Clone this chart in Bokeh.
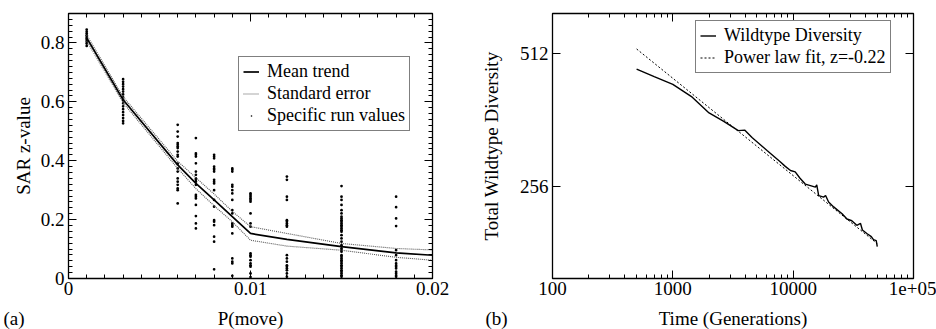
from bokeh.plotting import figure
from bokeh.layouts import row, column
from bokeh.models import (FixedTicker, LinearAxis, LogAxis, Legend, LegendItem,
                          CustomJSTickFormatter, Range1d)
from bokeh.core.properties import value
from bokeh.embed import file_html
from bokeh.resources import INLINE

FONT = "Liberation Serif"

# ---------------- panel (a) data ----------------
p_move = [0.001, 0.003, 0.006, 0.007, 0.008, 0.009, 0.01, 0.012, 0.015, 0.018, 0.02]
mean_z = [0.817, 0.607, 0.386, 0.323, 0.267, 0.21, 0.153, 0.133, 0.108, 0.087, 0.079]
upper_z = [0.827, 0.617, 0.398, 0.342, 0.287, 0.228, 0.176, 0.153, 0.119, 0.102, 0.097]
lower_z = [0.807, 0.597, 0.374, 0.305, 0.247, 0.193, 0.13, 0.11, 0.096, 0.072, 0.062]

runs_0001 = [0.845, 0.838, 0.832, 0.826, 0.82, 0.815, 0.81, 0.804, 0.798, 0.79]
runs_0003 = [0.677, 0.668, 0.66, 0.652, 0.643, 0.635, 0.625, 0.615, 0.605, 0.595,
             0.585, 0.575, 0.565, 0.555, 0.545, 0.535, 0.527]
runs_0006 = [0.522, 0.499, 0.482, 0.46, 0.454, 0.448, 0.443, 0.431, 0.42, 0.414,
             0.39, 0.374, 0.363, 0.34, 0.329, 0.318, 0.306, 0.3, 0.255]
runs_0007 = [0.477, 0.425, 0.42, 0.414, 0.391, 0.363, 0.352, 0.34, 0.335, 0.329,
             0.318, 0.284, 0.278, 0.272, 0.25, 0.212, 0.187, 0.17]
runs_0008 = [0.42, 0.414, 0.408, 0.38, 0.374, 0.369, 0.363, 0.335, 0.329, 0.323,
             0.3, 0.267, 0.244, 0.198, 0.193, 0.181, 0.142, 0.125, 0.031]
runs_0009 = [0.374, 0.369, 0.363, 0.318, 0.312, 0.3, 0.289, 0.267, 0.232, 0.221,
             0.187, 0.181, 0.176, 0.153, 0.068, 0.057, 0.051, 0.009]
runs_0010 = [0.289, 0.284, 0.278, 0.272, 0.267, 0.261, 0.221, 0.187, 0.176, 0.085,
             0.079, 0.074, 0.062, 0.051, 0.045, 0.04, 0.017, 0.005]
runs_0012 = [0.346, 0.335, 0.278, 0.267, 0.198, 0.193, 0.187, 0.181, 0.176, 0.079,
             0.068, 0.057, 0.045, 0.04, 0.034, 0.028, 0.017, 0.006]
runs_0015 = [0.314, 0.278, 0.267, 0.25, 0.232, 0.221, 0.21, 0.204, 0.198, 0.193,
             0.187, 0.181, 0.176, 0.17, 0.164, 0.159, 0.147, 0.136, 0.125, 0.113,
             0.102, 0.096, 0.091, 0.079, 0.074, 0.068, 0.062, 0.057, 0.051, 0.045,
             0.04, 0.034, 0.028, 0.023, 0.017, 0.011, 0.006]
runs_0018 = [0.278, 0.242, 0.204, 0.178, 0.096, 0.079, 0.062, 0.051, 0.045, 0.04,
             0.034, 0.023, 0.017, 0.011, 0.006]
run_groups = [(0.001, runs_0001), (0.003, runs_0003), (0.006, runs_0006), (0.007, runs_0007),
              (0.008, runs_0008), (0.009, runs_0009), (0.01, runs_0010), (0.012, runs_0012),
              (0.015, runs_0015), (0.018, runs_0018)]
run_x = [px for px, vals in run_groups for _ in vals]
run_y = [v for _, vals in run_groups for v in vals]

a_xticks = [0, 0.01, 0.02]
a_yticks = [0, 0.2, 0.4, 0.6, 0.8]

# ---------------- panel (b) data ----------------
gen = [500, 700, 1000, 1450, 2000, 2650, 3500, 3950, 4550, 6100, 7800, 8600, 9500,
       10400, 11400, 12600, 13900, 15300, 15700, 16300, 17900, 18600, 19700, 21700,
       25500, 28000, 30700, 33800, 36300, 37600, 41200, 44600, 46500, 49000, 50000]
diversity = [471, 453, 435, 407, 375, 359, 342, 343, 330, 308, 291, 284, 278,
             276, 267, 259, 257, 255, 258, 244, 242, 244, 236, 230,
             222, 216, 214, 209, 211, 204, 200, 197, 194, 193, 187]
fit_gen = [500, 50000]
fit_div = [523, 190]
b_xticks = [100, 1000, 10000, 100000]
b_yticks = [256, 512]

# texts under the panels
panel_tags = ["(a)", "(b)"]
x_titles = ["P(move)", "Time (Generations)"]


def style_axis(ax, show_labels=True):
    ax.axis_line_color = None
    ax.major_tick_in = 8
    ax.major_tick_out = 0
    ax.minor_tick_in = 4
    ax.minor_tick_out = 0
    ax.major_tick_line_color = "black"
    ax.minor_tick_line_color = "black"
    ax.major_label_text_font = FONT
    ax.major_label_text_font_size = "19px"
    ax.major_label_text_color = "black"
    ax.major_label_standoff = 4
    ax.axis_label_text_font = FONT
    ax.axis_label_text_font_size = "19px"
    ax.axis_label_text_font_style = "normal"
    ax.axis_label_text_color = "black"
    if not show_labels:
        ax.major_label_text_font_size = "0px"
        ax.major_label_standoff = 0
        ax.formatter = CustomJSTickFormatter(code="return ''")


def style_fig(p):
    p.grid.visible = False
    p.outline_line_color = "black"
    p.outline_line_width = 1.3
    p.background_fill_color = "white"
    p.border_fill_color = "white"


# ---------------- figure (a) ----------------
pa = figure(width=476, height=300, output_backend="svg", toolbar_location=None,
            x_range=Range1d(0, 0.02), y_range=Range1d(0, 0.9),
            min_border_left=68, min_border_right=44, min_border_top=13, min_border_bottom=22)
style_fig(pa)
xt = FixedTicker(ticks=a_xticks, minor_ticks=[i * 0.001 for i in range(21)])
yt = FixedTicker(ticks=a_yticks, minor_ticks=[i * 0.02 for i in range(46)])
pa.xaxis.ticker = xt
pa.yaxis.ticker = yt
for ax in pa.xaxis + pa.yaxis:
    style_axis(ax)
pa.xaxis.major_label_standoff = 3
pa.xaxis.formatter = CustomJSTickFormatter(code="return tick == 0 ? '0' : tick.toFixed(2)")
pa.yaxis.formatter = CustomJSTickFormatter(code="return tick == 0 ? '0' : tick.toFixed(1)")
pa.yaxis.axis_label = "SAR z-value"
pa.yaxis.axis_label_standoff = 4
ta = LinearAxis(ticker=xt)
style_axis(ta, False)
pa.add_layout(ta, "above")
ra = LinearAxis(ticker=yt)
style_axis(ra, False)
pa.add_layout(ra, "right")

dots = pa.scatter(run_x, run_y, marker="dot", size=11, color="black", line_width=1)
se_u = pa.line(p_move, upper_z, line_color="#555555", line_width=1.1, line_dash="1 1")
pa.line(p_move, lower_z, line_color="#555555", line_width=1.1, line_dash="1 1")
mean_r = pa.line(p_move, mean_z, line_color="black", line_width=1.7)

leg_a = Legend(items=[LegendItem(label="Mean trend", renderers=[mean_r]),
                      LegendItem(label="Standard error", renderers=[se_u]),
                      LegendItem(label="Specific run values", renderers=[dots])],
               location=(170, 147))
pa.add_layout(leg_a)

# ---------------- figure (b) ----------------
pb = figure(width=460, height=300, output_backend="svg", toolbar_location=None,
            x_axis_type="log", y_axis_type="log",
            x_range=Range1d(100, 100000), y_range=Range1d(158.5, 629),
            min_border_left=76, min_border_right=23, min_border_top=13, min_border_bottom=22)
style_fig(pb)
bxt = FixedTicker(ticks=b_xticks,
                  minor_ticks=[m * d for d in (100, 1000, 10000) for m in range(2, 10)])
byt = FixedTicker(ticks=b_yticks, minor_ticks=[])
pb.xaxis.ticker = bxt
pb.yaxis.ticker = byt
for ax in pb.xaxis + pb.yaxis:
    style_axis(ax)
pb.xaxis.major_label_standoff = 3
pb.xaxis.formatter = CustomJSTickFormatter(code="return tick >= 99999 ? '1e+05' : tick.toFixed(0)")
pb.yaxis.formatter = CustomJSTickFormatter(code="return tick.toFixed(0)")
pb.yaxis.axis_label = "Total Wildtype Diversity"
pb.yaxis.axis_label_standoff = 15
tb = LogAxis(ticker=bxt)
style_axis(tb, False)
pb.add_layout(tb, "above")
rb = LogAxis(ticker=byt)
style_axis(rb, False)
pb.add_layout(rb, "right")

wild = pb.line(gen, diversity, line_color="black", line_width=1.4)
fit = pb.line(fit_gen, fit_div, line_color="black", line_width=1, line_dash="2 2")
leg_b = Legend(items=[LegendItem(label="Wildtype Diversity", renderers=[wild]),
                      LegendItem(label="Power law fit, z=-0.22", renderers=[fit])],
               location=(143, 205))
pb.add_layout(leg_b)

for leg in (leg_a, leg_b):
    leg.label_text_font = FONT
    leg.label_text_font_size = "18px"
    leg.label_text_color = "black"
    leg.border_line_color = "black"
    leg.border_line_width = 1.2
    leg.background_fill_color = "white"
    leg.background_fill_alpha = 1
    leg.glyph_width = 16
    leg.glyph_height = 19
    leg.label_height = 19
    leg.label_standoff = 8
    leg.padding = 4
    leg.spacing = 1
    leg.margin = 0

# ---------------- strip with the x titles and panel tags ----------------
strip = figure(width=936, height=29, output_backend="svg", toolbar_location=None,
               x_range=Range1d(0, 936), y_range=Range1d(0, 29),
               x_axis_location=None, y_axis_location=None,
               min_border=0, outline_line_color=None)
strip.grid.visible = False
strip.background_fill_color = "white"
strip.border_fill_color = "white"
strip.text(x=[3, 485], y=[11, 11], text=panel_tags, text_align="left",
           text_baseline="middle", text_font=value(FONT), text_font_size="19px",
           text_color="black")
strip.text(x=[250, 732.5], y=[11, 11], text=x_titles, text_align="center",
           text_baseline="middle", text_font=value(FONT), text_font_size="19px",
           text_color="black")

layout = column(row(pa, pb), strip)
open("out.html", "w").write(file_html(layout, INLINE))
